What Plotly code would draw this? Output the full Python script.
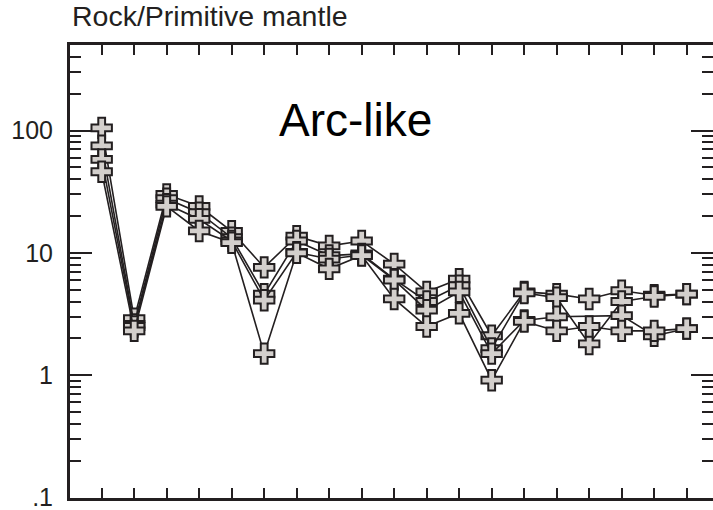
import math
import plotly.graph_objects as go

# Primitive-mantle normalised abundances, one list per sample (19 elements, left to right)
positions = list(range(19))
sample_a = [105, 2.9, 30, 24, 15, 7.6, 13.7, 11.4, 12.5, 8.1, 4.8, 6.1, 2.1, 4.8, 4.6, 4.2, 4.9, 4.5, 4.6]
sample_b = [75, 2.6, 27.7, 21.3, 13.3, 4.6, 12.5, 9.5, 9.8, 6.1, 4.0, 5.4, 1.65, 4.7, 4.3, 1.8, 4.0, 4.4, 4.6]
sample_c = [58, 2.5, 25, 18.8, 12.5, 4.1, 10.1, 8.9, 9.6, 6.0, 3.4, 4.8, 1.5, 2.8, 3.0, None, 3.07, 2.1, 2.4]
sample_d = [46, 2.3, 24, 15.1, 12.1, 1.5, 10.0, 7.4, 9.5, 4.2, 2.5, 3.2, 0.91, 2.75, 2.3, 2.5, 2.3, 2.3, 2.4]
samples = [sample_a, sample_b, sample_c, sample_d]

y_tick_values = [0.1, 1, 10, 100]
y_tick_labels = [".1", "1", "10", "100"]
y_min, y_max = 0.1, 500

ink = "#231f20"
fill = "#d3cfcc"
font_family = "Liberation Sans, Arial, sans-serif"

# log minor ticks: 2..9 within each decade of the axis
minor_values = [m * 10 ** e for e in range(-1, 3) for m in range(2, 10) if m * 10 ** e < y_max]

fig = go.Figure()
for values in samples:
    fig.add_trace(go.Scatter(
        x=positions, y=values, mode="lines+markers", connectgaps=True,
        line=dict(color=ink, width=1.6),
        marker=dict(symbol="cross", size=17, color=fill, line=dict(color=ink, width=2)),
        showlegend=False, hoverinfo="skip",
    ))

log_range = [math.log10(y_min) - 0.004, math.log10(y_max)]

# tick-only axes share the exponent scale of the log data axis
tick_common = dict(type="linear", range=log_range, tickmode="array", overlaying="y",
                   ticks="inside", tickwidth=2, tickcolor=ink, ticklabeloverflow="allow",
                   showgrid=False, zeroline=False, showline=False)
minor_exp = [math.log10(v) for v in minor_values]
major_exp = [math.log10(v) for v in y_tick_values]

fig.update_layout(
    width=713, height=510,
    margin=dict(l=70, r=0, t=45, b=12),
    paper_bgcolor="white", plot_bgcolor="white",
    font=dict(family=font_family, color=ink),
    xaxis=dict(
        range=[-0.975, 18.81], tickmode="linear", tick0=0, dtick=1,
        ticks="inside", ticklen=10, tickwidth=2, tickcolor=ink,
        showticklabels=False, showgrid=False, zeroline=False,
        showline=True, linewidth=2.5, linecolor=ink, mirror="ticks",
    ),
    yaxis=dict(type="log", range=log_range, ticks="", showticklabels=False,
               showgrid=False, zeroline=False,
               showline=True, linewidth=2.5, linecolor=ink),
    yaxis2=dict(**tick_common, side="left", tickvals=minor_exp, ticklen=11, showticklabels=False),
    yaxis3=dict(**tick_common, side="left", tickvals=major_exp, ticktext=y_tick_labels, ticklen=22,
                tickfont=dict(size=25, color=ink), ticklabelstandoff=16),
    yaxis4=dict(**tick_common, side="right", tickvals=minor_exp, ticklen=11, showticklabels=False),
    yaxis5=dict(**tick_common, side="right", tickvals=major_exp, ticklen=22, showticklabels=False),
    annotations=[
        dict(text="Rock/Primitive mantle", xref="paper", yref="paper", x=0, y=1.0,
             xanchor="left", yanchor="bottom", xshift=0, yshift=11,
             showarrow=False, font=dict(size=28.5, color=ink)),
        dict(text="Arc-like", xref="x", yref="y", x=7.8, y=2.087,
             xanchor="center", yanchor="middle",
             showarrow=False, font=dict(size=46, color="black")),
    ],
)

# empty traces so the overlaid tick axes are rendered
for axis_name in ["y2", "y3", "y4", "y5"]:
    fig.add_trace(go.Scatter(x=[None], y=[None], yaxis=axis_name,
                             showlegend=False, hoverinfo="skip"))

fig.write_html("out.html")
